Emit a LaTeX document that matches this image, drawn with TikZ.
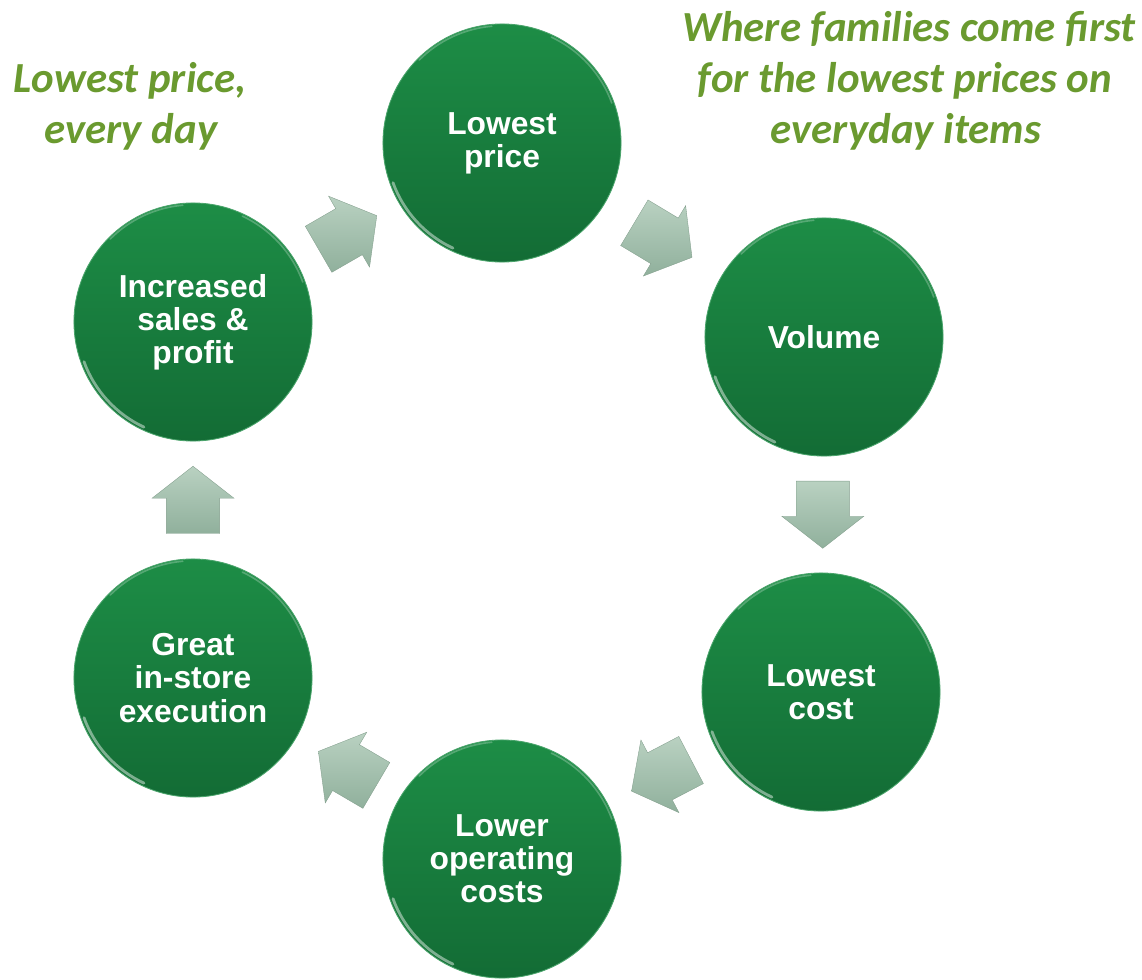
\documentclass[tikz,border=0pt]{standalone}
\usepackage{fontspec}
\setmainfont{Liberation Sans}
\newfontfamily\carlito{Carlito}
\usetikzlibrary{shapes.arrows,calc}
\definecolor{ctop}{HTML}{1D8D46}
\definecolor{cbot}{HTML}{136C35}
\definecolor{arrtop}{HTML}{B9D1C1}
\definecolor{arrbot}{HTML}{90B09C}
\definecolor{olive}{HTML}{6A9A2F}
\tikzset{
  bubble/.style={circle, minimum size=5.95cm, inner sep=0pt, top color=ctop, bottom color=cbot,
    draw=ctop!80!white, line width=0.6pt, text=white, align=center,
    font=\bfseries\fontsize{22.6}{23.6}\selectfont},
  blockarrow/.style={single arrow, anchor=tail, minimum height=1.68cm, inner xsep=0pt, inner ysep=0.66cm,
    single arrow head extend=0.36cm, single arrow tip angle=104,
    top color=arrtop, bottom color=arrbot, draw=arrbot!90!black, line width=0.25pt},
  slogan/.style={text=olive, anchor=base, font=\carlito\bfseries\itshape\fontsize{30.5}{33}\selectfont},
  rimA/.style={white, opacity=0.45, line width=2pt, line cap=round},
  rimB/.style={white, opacity=0.25, line width=1.2pt, line cap=round}
}
\begin{document}
\begin{tikzpicture}[x=0.025cm, y=-0.025cm]
\useasboundingbox (0,0) rectangle (1142,979);

\node[bubble] (lp) at (502,143) {Lowest\\price};
\node[bubble] (vol) at (824,337) {Volume};
\node[bubble] (lc) at (821,692) {Lowest\\cost};
\node[bubble] (loc) at (502,859) {Lower\\operating\\costs};
\node[bubble] (gis) at (193,678) {Great\\in-store\\execution};
\node[bubble] (isp) at (193,322) {Increased\\sales \&\\profit};

\foreach \c in {lp,vol,lc,loc,gis,isp}{
  \draw[rimA] ($(\c)+(200:2.9cm)$) arc[start angle=200, end angle=245, radius=2.9cm];
  \draw[rimB] ($(\c)+(20:2.92cm)$) arc[start angle=20, end angle=65, radius=2.92cm];
  \draw[rimB] ($(\c)+(95:2.93cm)$) arc[start angle=95, end angle=135, radius=2.93cm];
}

\coordinate (m1) at ($(isp)!0.5!(lp)$);
\coordinate (m2) at ($(lp)!0.5!(vol)$);
\coordinate (m3) at ($(vol)!0.5!(lc)$);
\coordinate (m4) at ($(lc)!0.5!(loc)$);
\coordinate (m5) at ($(loc)!0.5!(gis)$);
\coordinate (m6) at ($(gis)!0.5!(isp)$);
\node[blockarrow, rotate=30] (a1) at ($(m1)!0.84cm!(isp)$) {};
\node[blockarrow, rotate=-31] (a2) at ($(m2)!0.84cm!(lp)$) {};
\node[blockarrow, rotate=-90] (a3) at ($(m3)!0.84cm!(vol)$) {};
\node[blockarrow, rotate=207.6] (a4) at ($(m4)!0.84cm!(lc)$) {};
\node[blockarrow, rotate=149.6] (a5) at ($(m5)!0.84cm!(loc)$) {};
\node[blockarrow, rotate=90] (a6) at ($(m6)!0.84cm!(gis)$) {};

\node[slogan] (l1) at (130,93) {Lowest price,};
\node[slogan] (l2) at (131,143) {every day};
\node[slogan] (r1) at (909,42) {Where families come first};
\node[slogan] (r2) at (905,93) {for the lowest prices on};
\node[slogan] (r3) at (906,143) {everyday items};
\end{tikzpicture}
\end{document}
